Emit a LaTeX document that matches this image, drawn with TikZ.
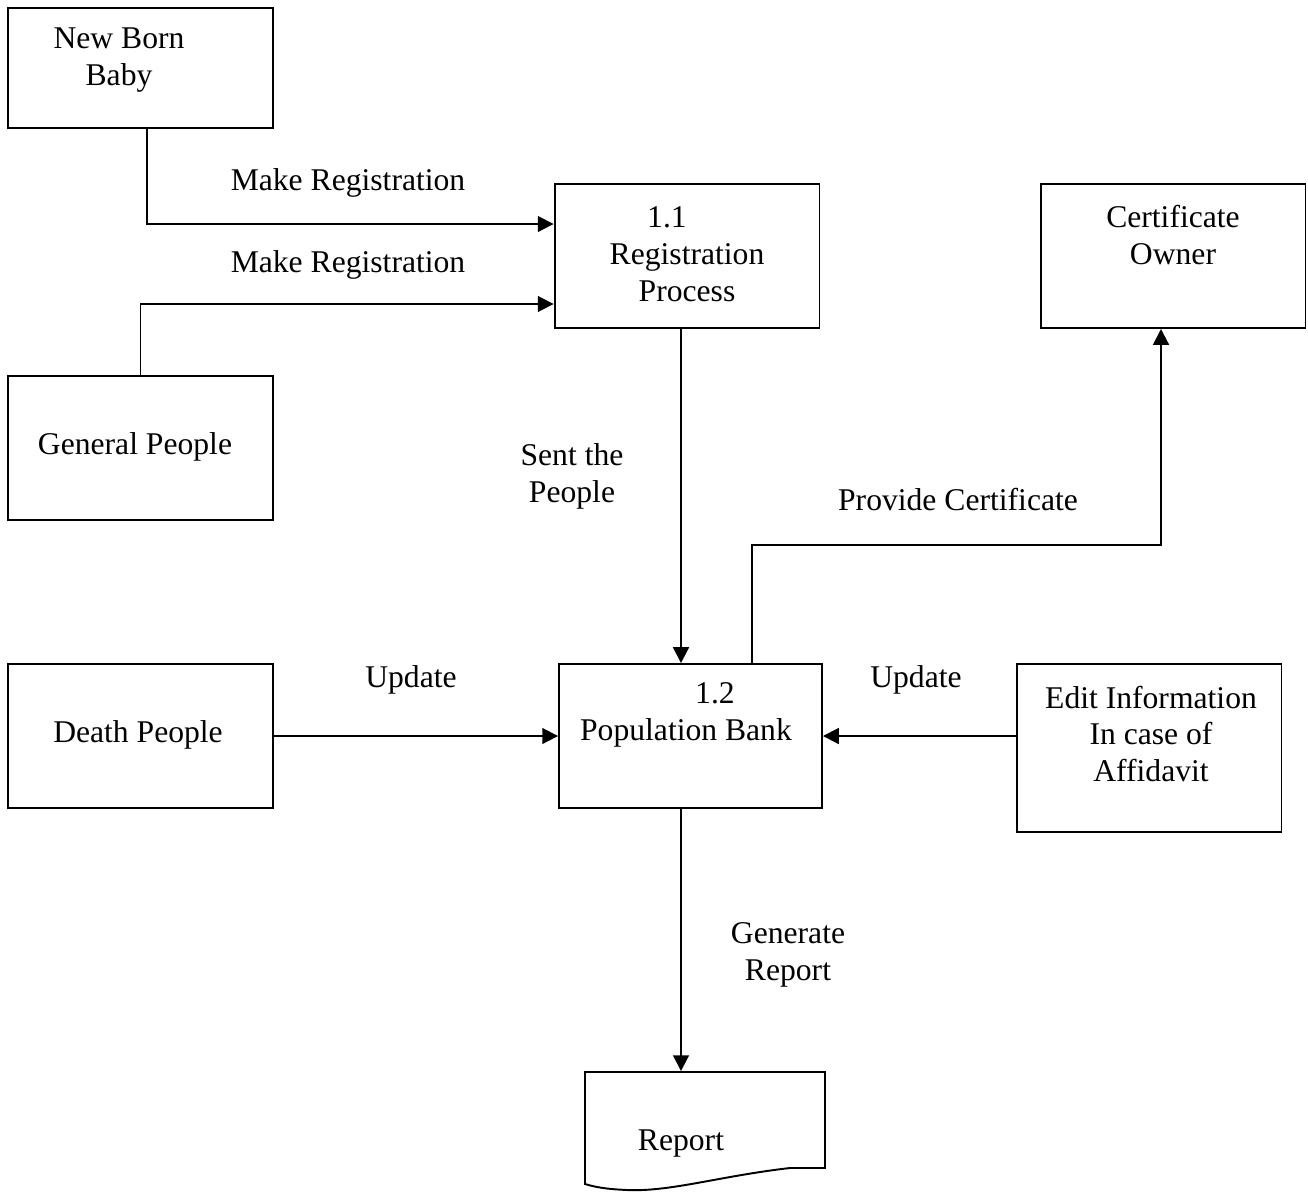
\documentclass[tikz,border=0pt]{standalone}
\usepackage{fontspec}
\setmainfont{Liberation Serif}
\usetikzlibrary{arrows.meta}

\begin{document}
\begin{tikzpicture}[x=0.02cm, y=-0.02cm, ->, >={Triangle[length=9pt,width=9pt]}, line width=1.1pt,
                    font=\fontsize{18}{21}\selectfont]
        \tikzset{
           box/.style={
                        rectangle,
                        draw=black,
                        fill=none,
                        minimum width=5.3cm,
                        minimum height=2.88cm
                       },
           txt/.style={
                        align=center,
                        inner sep=0pt,
                        yshift=-0.06cm,
                        text=black
                       },
                 };
        \useasboundingbox (0,0) rectangle (1308,1191);
        %----------------
        \node[box, minimum height=2.4cm] (baby) at (140.5,68) {};
        \node[box] (reg) at (687,256) {};
        \node[box] (cert) at (1173,256) {};
        \node[box] (general) at (140.5,448) {};
        \node[box] (death) at (140.5,736) {};
        \node[box, minimum width=5.26cm] (bank) at (690.5,736) {};
        \node[box, minimum height=3.36cm] (edit) at (1149,748) {};
        \node[minimum width=4.8cm, minimum height=1.92cm, inner sep=0pt] (report) at (705,1120) {};
        \draw[-] (585,1072) -- (825,1072) -- (825,1168) -- (790,1168)
              .. controls (720,1176) and (670,1192) .. (627,1190)
              .. controls (605,1189) and (595,1187) .. (585,1184) -- cycle;
        %----------------
        \node[txt] (babyText) at (119,57) {New Born\\Baby};
        \node[txt] (regText) at (687,251) {1.1\hspace*{0.8cm}\\Registration\\Process};
        \node[txt] (certText) at (1173,232) {Certificate\\Owner};
        \node[txt] (generalText) at (135,444) {General People};
        \node[txt] (deathText) at (138,732) {Death People};
        \node[txt] (bankText) at (686,712) {\hspace*{1.16cm}1.2\\Population Bank};
        \node[txt] (editText) at (1151,731) {Edit Information\\In case of\\Affidavit};
        \node[txt] (reportText) at (681,1140) {Report};
        %----------------
        \node[txt] (makeA) at (348,180) {Make Registration};
        \node[txt] (makeB) at (348,262) {Make Registration};
        \node[txt] (sent) at (572,473) {Sent the\\People};
        \node[txt] (provide) at (958,497) {Provide Certificate};
        \node[txt] (updateA) at (411,677) {Update};
        \node[txt] (updateB) at (916,677) {Update};
        \node[txt] (generate) at (788,952) {Generate\\Report};
        %----------------
        \coordinate (turn) at (752,545);
        \draw ([xshift=0.13cm]baby.south) |- ([yshift=0.64cm]reg.west);
        \draw (general.north) |- ([yshift=-0.96cm]reg.west);
        \draw ([xshift=-0.12cm]reg.south) -- ([xshift=-0.12cm]reg.south |- bank.north);
        \draw (bank.north -| turn) -- (turn) -| ([xshift=-0.24cm]cert.south);
        \path (death) edge (bank)
              (edit.west |- bank.east) edge (bank.east)
              ([xshift=-0.19cm]bank.south) edge ([xshift=-0.19cm]bank.south |- report.north)
        ;
    \end{tikzpicture}
\end{document}
